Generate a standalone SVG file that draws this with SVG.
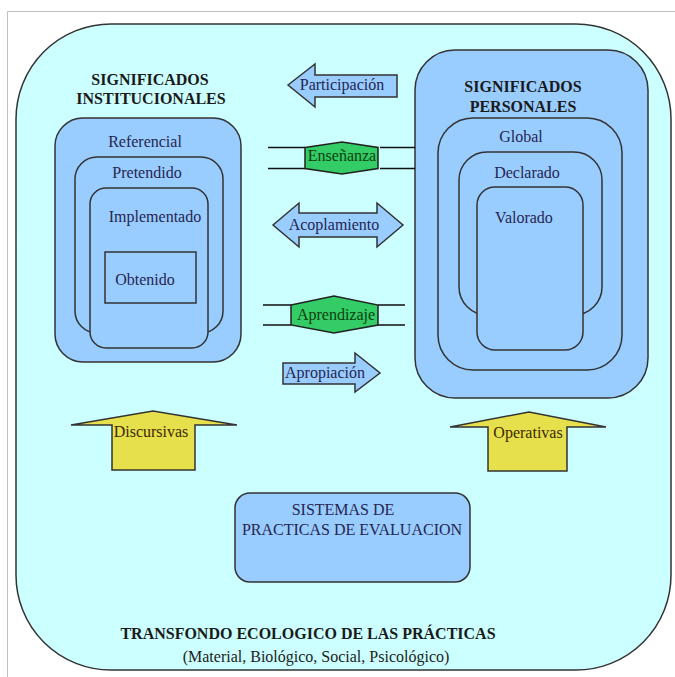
<svg xmlns="http://www.w3.org/2000/svg" width="675" height="677" viewBox="0 0 675 677">
<style>
.box{fill:#99ccff;stroke:#333;stroke-width:1.5}
text{font-family:"Liberation Serif","Times New Roman","DejaVu Serif",serif;font-size:16px;text-anchor:middle}
.lbl{fill:#262650}
.ttl{font-weight:bold;fill:#1a1a1a}
.blue{fill:#99ccff;stroke:#333;stroke-width:1.5;stroke-linejoin:miter}
.green{fill:#33cc66;stroke:#222;stroke-width:1.5}
.ln{fill:none;stroke:#111;stroke-width:1.6}
.yel{fill:#e6e04c;stroke:#333;stroke-width:1.5}
.gt{fill:#0d400d}
.yt{fill:#3d2a00}
.sub{fill:#222}
</style>
<rect width="675" height="677" fill="#fff"/>
<path d="M7.5 677 V11.5 H675" fill="none" stroke="#c0c0c0" stroke-width="1"/>
<g id="transfondo">
<rect x="16" y="24" width="655" height="646" rx="95" ry="95" fill="#ccffff" stroke="#333" stroke-width="1.5"/>
<text class="ttl" x="308" y="639" font-family="Liberation Serif, serif">TRANSFONDO ECOLOGICO DE LAS PRÁCTICAS</text>
<text class="sub" x="316" y="662" font-family="Liberation Serif, serif">(Material, Biológico, Social, Psicológico)</text>
</g>
<g id="institucionales">
<text class="ttl" x="150" y="85">SIGNIFICADOS</text>
<text class="ttl" x="151" y="104">INSTITUCIONALES</text>
<rect class="box" x="55" y="118" width="186" height="244" rx="28"/>
<text class="lbl" x="145" y="147">Referencial</text>
<rect class="box" x="75" y="157" width="148" height="176" rx="22"/>
<text class="lbl" x="147" y="178">Pretendido</text>
<rect class="box" x="90" y="188" width="118" height="160" rx="16"/>
<text class="lbl" x="155" y="222">Implementado</text>
<rect class="box" x="105" y="252" width="91" height="51"/>
<text class="lbl" x="145" y="285">Obtenido</text>
</g>
<g id="personales">
<rect class="box" x="415" y="50" width="233" height="348" rx="40"/>
<text class="ttl" x="523" y="92">SIGNIFICADOS</text>
<text class="ttl" x="523" y="112">PERSONALES</text>
<rect class="box" x="438" y="118" width="184" height="252" rx="35"/>
<text class="lbl" x="521" y="142">Global</text>
<rect class="box" x="459" y="152" width="143" height="163" rx="28"/>
<text class="lbl" x="527" y="178">Declarado</text>
<rect class="box" x="477" y="187" width="106" height="163" rx="18"/>
<text class="lbl" x="524" y="223">Valorado</text>
</g>
<g id="sistemas">
<rect class="box" x="235" y="493" width="235" height="89" rx="15"/>
<text class="lbl" x="343" y="515">SISTEMAS DE</text>
<text class="lbl" x="352" y="535">PRACTICAS DE EVALUACION</text>
</g>
<g id="connectors">
<g id="participacion">
<polygon class="blue" points="288,85 315,64 315,75 397,75 397,97 315,97 315,107"/>
<text class="lbl" x="342" y="90">Participación</text>
</g>
<g id="ensenanza">
<path class="ln" d="M268 147.5 H305 M380 147.5 H415 M268 168.5 H305 M380 168.5 H415"/>
<polygon class="green" points="305,147.5 342,142 378,147.5 378,168.5 342,174 305,168.5"/>
<text class="gt" x="342" y="161">Enseñanza</text>
</g>
<g id="acoplamiento">
<polygon class="blue" points="273,225 299,203 299,213 377,213 377,203 403,225 377,247 377,237 299,237 299,247"/>
<text class="lbl" x="334" y="230">Acoplamiento</text>
</g>
<g id="aprendizaje">
<path class="ln" d="M263 305 H291 M378 305 H405 M263 325 H291 M378 325 H405"/>
<polygon class="green" points="291,305 334,296 378,305 378,325 334,333 291,325"/>
<text class="gt" x="336" y="320">Aprendizaje</text>
</g>
<g id="apropiacion">
<polygon class="blue" points="283,363 355,363 355,353 380,373 355,392 355,384 283,384"/>
<text class="lbl" x="325" y="378">Apropiación</text>
</g>
<g id="discursivas">
<polygon class="yel" points="112,470 112,425 71,425 153,411 237,425 195,425 195,470"/>
<text class="yt" x="151" y="437">Discursivas</text>
</g>
<g id="operativas">
<polygon class="yel" points="488,471 488,427 450,427 529,412 606,427 567,427 567,471"/>
<text class="yt" x="528" y="438">Operativas</text>
</g>
</g>
</svg>
